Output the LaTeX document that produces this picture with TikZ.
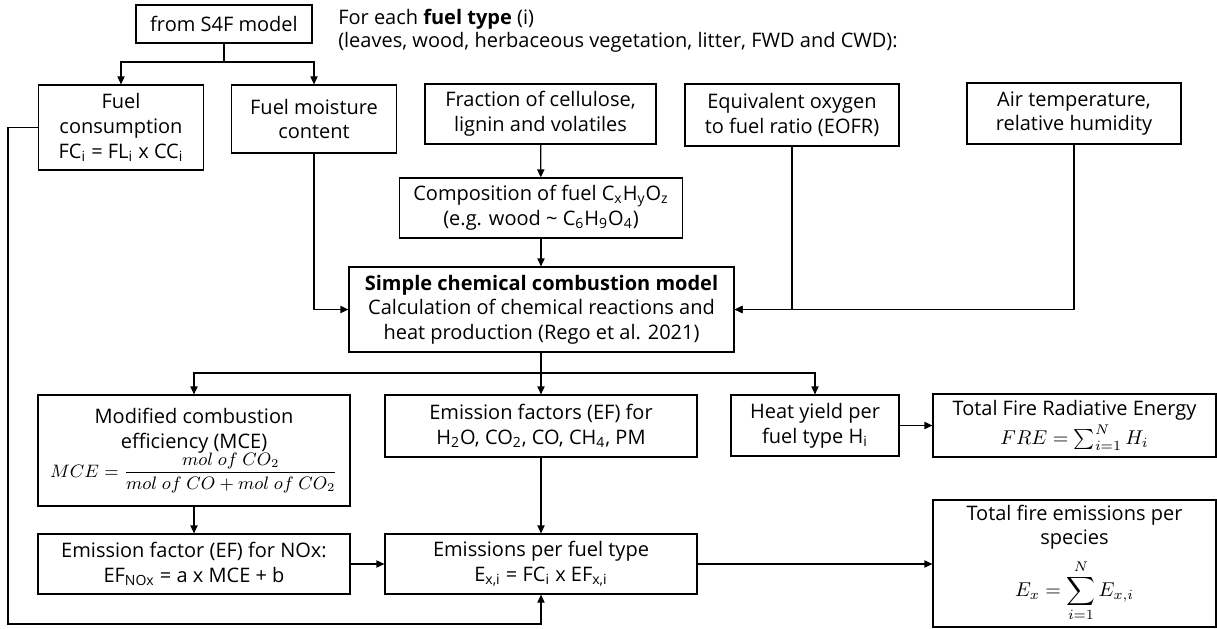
\documentclass[tikz,border=0pt]{standalone}
\usepackage{amsmath}
\usepackage{fontspec}
\setmainfont{Open Sans}
\usetikzlibrary{arrows.meta}
\begin{document}
\begin{tikzpicture}[x=0.5pt,y=-0.5pt,line width=0.6pt,
        >={Triangle[length=4pt,width=3.6pt]},
        box/.style={draw,align=center,inner sep=1pt,font=\fontsize{10}{12.3}\selectfont}]
        \useasboundingbox (0,0) rectangle (1217,628);
        % inputs
        \node[box,minimum width=88pt,minimum height=19pt] (S4F) at (224,24) {from S4F model};
        \node[anchor=west,align=left,font=\fontsize{10}{11.5}\selectfont] (head) at (331,31)
            {For each \textbf{fuel type} (i)\\(leaves, wood, herbaceous vegetation, litter, FWD and CWD):};
        \node[box,minimum width=82.5pt,minimum height=42.5pt] (FC) at (121,127.5)
            {Fuel\\consumption\\FC\textsubscript{i} = FL\textsubscript{i} x CC\textsubscript{i}};
        \node[box,minimum width=82.5pt,minimum height=34pt] (FM) at (314,119) {Fuel moisture\\content};
        \node[box,minimum width=115.5pt,minimum height=30pt] (FRAC) at (540.5,114) {Fraction of cellulose,\\lignin and volatiles};
        \node[box,minimum width=107pt,minimum height=31pt] (EOFR) at (792,115) {Equivalent oxygen\\to fuel ratio (EOFR)};
        \node[box,minimum width=107pt,minimum height=30.5pt] (AIR) at (1074,113.5) {Air temperature,\\relative humidity};
        \node[box,minimum width=141.5pt,minimum height=30pt] (COMP) at (541,208)
            {Composition of fuel C\textsubscript{x}H\textsubscript{y}O\textsubscript{z}\\(e.g. wood \textasciitilde{} C\textsubscript{6}H\textsubscript{9}O\textsubscript{4})};
        % model
        \node[box,minimum width=192.5pt,minimum height=42.5pt] (SCM) at (541.5,309.5)
            {\textbf{Simple chemical combustion model}\\Calculation of chemical reactions and\\heat production (Rego et al. 2021)};
        % outputs
        \node[box,minimum width=156pt,minimum height=55.5pt] (MCE) at (194,450.5)
            {Modified combustion\\efficiency (MCE)\\[-1pt]{\fontsize{9}{11}\selectfont$MCE=\dfrac{mol\ of\ CO_2}{mol\ of\ CO+mol\ of\ CO_2}$}};
        \node[box,minimum width=156pt,minimum height=31pt] (EF) at (541,426)
            {Emission factors (EF) for\\H\textsubscript{2}O, CO\textsubscript{2}, CO, CH\textsubscript{4}, PM};
        \node[box,minimum width=84pt,minimum height=30.5pt] (HEAT) at (815,425.5) {Heat yield per\\fuel type H\textsubscript{i}};
        \node[box,minimum width=141.5pt,minimum height=31.5pt] (FRE) at (1074.5,425.5)
            {Total Fire Radiative Energy\\[2.5pt]$FRE=\sum_{i=1}^{N}H_i$};
        \node[box,minimum width=156pt,minimum height=30pt] (NOX) at (194,564)
            {Emission factor (EF) for NOx:\\EF\textsubscript{NOx} = a x MCE + b};
        \node[box,minimum width=156pt,minimum height=30pt] (EPFT) at (541,564)
            {Emissions per fuel type\\E\textsubscript{x,i} = FC\textsubscript{i} x EF\textsubscript{x,i}};
        \node[box,minimum width=141.5pt,minimum height=63.5pt] (TOT) at (1074.5,563.5)
            {Total fire emissions per\\species\\[4pt]$E_x=\displaystyle\sum_{i=1}^{N}E_{x,i}$};
        % connectors
        \coordinate (s4fj) at (224,62);
        \coordinate (j) at (541,373);
        \coordinate (loopL) at (8,624);
        \draw (S4F) -- (s4fj);
        \draw[->] (s4fj) -| (FC); \draw[->] (s4fj) -| (FM);
        \draw[->] (FM) |- (SCM);
        \draw[->] (AIR) |- (SCM); \draw[->] (EOFR) |- (SCM);
        \draw[->] (FRAC) -- (COMP);
        \draw[->] (COMP.south -| j) -- (SCM.north -| j);
        \draw (SCM.south -| j) -- (j);
        \draw[->] (j) -| (MCE); \draw[->] (j) -- (EF); \draw[->] (j) -| (HEAT);
        \draw[->] (HEAT) -- (FRE);
        \draw[->] (MCE) -- (NOX);
        \draw[->] (EF) -- (EPFT);
        \draw[->] (NOX) -- (EPFT);
        \draw[->] (EPFT.east) -- (EPFT.east -| TOT.west);
        \draw[->] (FC.west) -| (loopL) -| (EPFT);
\end{tikzpicture}
\end{document}
